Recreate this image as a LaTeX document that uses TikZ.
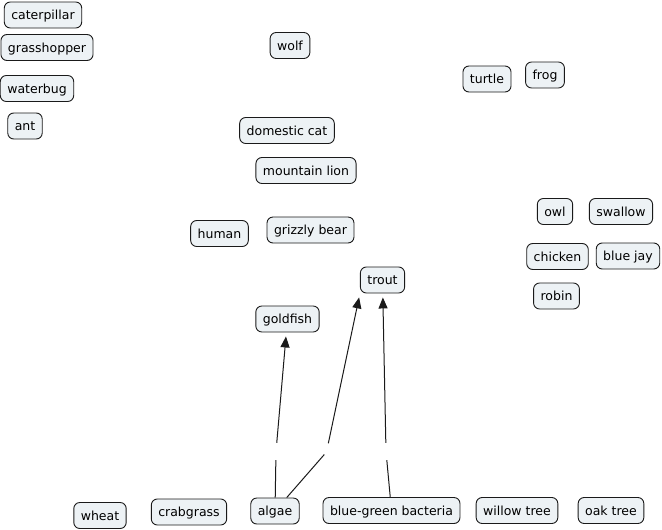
\documentclass[tikz,border=0pt]{standalone}
\usepackage{fontspec}
\setmainfont{DejaVu Sans}
\usepackage{xcolor}
\usepackage{tikz}
\usetikzlibrary{arrows.meta}
\definecolor{conceptFill}{HTML}{EDF2F5}
\definecolor{conceptLine}{HTML}{1A1A1A}

\begin{document}
\begin{tikzpicture}[x=1pt, y=-1pt,
    concept/.style={draw=conceptLine, fill=conceptFill, line width=0.9pt,
        rounded corners=6pt, inner xsep=7pt, inner ysep=0pt,
        minimum height=26pt, text height=10pt, text depth=1pt,
        font=\fontsize{12.5}{14}\selectfont},
    linkgap/.style={inner sep=0pt, minimum width=4pt, minimum height=17pt},
    link/.style={line width=1pt, conceptLine},
    linkto/.style={link, -{Triangle[length=11pt, width=9pt]}, shorten >=4pt}]
    \useasboundingbox (0,0) rectangle (662,530);

    % insects
    \node[concept] (caterpillar) at (43,15) {caterpillar};
    \node[concept] (grasshopper) at (47,47.5) {grasshopper};
    \node[concept] (waterbug) at (37,88.5) {waterbug};
    \node[concept] (ant) at (25,126) {ant};

    % mammals
    \node[concept] (wolf) at (290,45.5) {wolf};
    \node[concept] (domesticcat) at (287,130.5) {domestic cat};
    \node[concept] (mountainlion) at (306,170.5) {mountain lion};
    \node[concept] (human) at (219.5,233.5) {human};
    \node[concept] (grizzlybear) at (310.5,230) {grizzly bear};

    % reptiles, amphibians
    \node[concept] (turtle) at (487,79) {turtle};
    \node[concept] (frog) at (545,75) {frog};

    % birds
    \node[concept] (owl) at (555,211.5) {owl};
    \node[concept] (swallow) at (621,211.5) {swallow};
    \node[concept] (chicken) at (557.5,256.5) {chicken};
    \node[concept] (bluejay) at (628,256) {blue jay};
    \node[concept] (robin) at (556.5,296) {robin};

    % fish
    \node[concept] (trout) at (382.5,280) {trout};
    \node[concept] (goldfish) at (287.5,319) {goldfish};

    % producers
    \node[concept] (wheat) at (100,515.5) {wheat};
    \node[concept] (crabgrass) at (189,512) {crabgrass};
    \node[concept] (algae) at (275,511) {algae};
    \node[concept] (bgbacteria) at (391.5,510.5) {blue-green bacteria};
    \node[concept] (willowtree) at (517,510.5) {willow tree};
    \node[concept] (oaktree) at (611,510.5) {oak tree};

    % links
    \node[linkgap] (g1) at (276,451.5) {};
    \node[linkgap] (g2) at (326.5,452) {};
    \node[linkgap] (g3) at (386,451.5) {};

    \draw[link] (algae) -- (g1);
    \draw[linkto] (g1) -- (goldfish);
    \draw[link] (algae) -- (g2);
    \draw[linkto] (g2) -- (trout.south west);
    \draw[link] (bgbacteria) -- (g3);
    \draw[linkto] (g3) -- (trout);
\end{tikzpicture}
\end{document}
